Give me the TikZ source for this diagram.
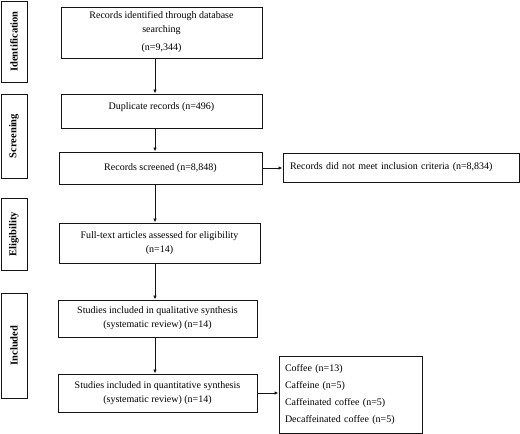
\documentclass[tikz,border=0pt]{standalone}
\usepackage{fontspec}
\setmainfont{Liberation Serif}
\usepackage{tikz}
\usetikzlibrary{arrows.meta}
\definecolor{boxline}{RGB}{20,20,20}

\begin{document}
\begin{tikzpicture}[x=1pt,y=-1pt,
  stage/.style={draw=boxline, line width=1pt, rotate=90, inner sep=0pt,
    font=\fontsize{10.5}{12}\selectfont\bfseries},
  flowbox/.style={draw=boxline, line width=1pt, inner sep=0pt, align=center,
    font=\fontsize{10}{14}\selectfont},
  flowarrow/.style={boxline, line width=1pt, -{Latex[length=4pt,width=3.5pt]}}]
\useasboundingbox (0,0) rectangle (520,434);

% Stage labels
\node[stage, minimum width=81pt, minimum height=26pt] (ident) at (14,41.5) {Identification};
\node[stage, minimum width=84pt, minimum height=26pt] (screen) at (14,136) {Screening};
\node[stage, minimum width=72pt, minimum height=26pt] (elig) at (14,234) {Eligibility};
\node[stage, minimum width=105pt, minimum height=26pt] (incl) at (14,345.5) {Included};

% Main flow
\coordinate (spine) at (155,0);
\node[flowbox, minimum width=201pt, minimum height=51pt] (recid) at (161.5,32.5)
  {Records identified through database\\searching\\[4pt](n=9,344)};
\node[flowbox, minimum width=201pt, text height=15pt, text depth=19pt] (dup) at (161.5,111)
  {Duplicate records (n=496)};
\node[flowbox, minimum width=203pt, minimum height=32pt] (scr) at (160.5,168)
  {Records screened (n=8,848)};
\node[flowbox, minimum width=201pt, minimum height=40pt] (full) at (159.5,243)
  {Full-text articles assessed for eligibility\\(n=14)};
\node[flowbox, minimum width=199pt, minimum height=37pt] (qual) at (157.5,318.5)
  {Studies included in qualitative synthesis\\(systematic review) (n=14)};
\node[flowbox, minimum width=199pt, minimum height=38pt] (quant) at (157.5,393)
  {Studies included in quantitative synthesis\\(systematic review) (n=14)};

% Side boxes
\node[flowbox, minimum width=236pt, minimum height=29pt, align=left, text width=222pt] (excl) at (401,167.5)
  {Records did not meet inclusion criteria (n=8,834)};
\node[flowbox, minimum width=143pt, minimum height=77pt, align=left, text width=131pt,
  font=\fontsize{10}{12}\selectfont] (kinds) at (350.5,394.5)
  {Coffee (n=13)\\[5pt]Caffeine (n=5)\\[5pt]Caffeinated coffee (n=5)\\[5pt]Decaffeinated coffee (n=5)};

% Connectors
\draw[flowarrow] (recid.south -| spine) -- (dup.north -| spine);
\draw[flowarrow] (dup.south -| spine) -- (scr.north -| spine);
\draw[flowarrow] (scr.south -| spine) -- (full.north -| spine);
\draw[flowarrow] (full.south -| spine) -- (qual.north -| spine);
\draw[flowarrow] (qual.south -| spine) -- (quant.north -| spine);
\draw[flowarrow] (scr.east) -- (excl.west |- scr.east);
\draw[flowarrow] (quant.east) -- (kinds.west |- quant.east);
\end{tikzpicture}
\end{document}
